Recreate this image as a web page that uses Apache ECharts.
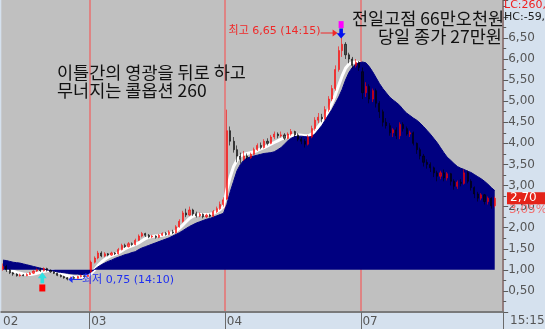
<!DOCTYPE html>
<html><head><meta charset="utf-8">
<script src="https://cdn.jsdelivr.net/npm/echarts@6/dist/echarts.min.js"></script>
<style>html,body{margin:0;padding:0;background:#D5E1EE;overflow:hidden}#c{width:545px;height:329px}</style>
</head><body><div id="c"></div>
<script>
// ---- data ----
const dayLabels = ['02', '03', '04', '07'];
// candles: [open, close, low, high]
const day02Bars = [[1.02,1.08,0.98,1.15],[1.08,1.00,0.95,1.12],[1.00,0.93,0.90,1.02],[0.93,0.90,0.86,0.95],[0.90,0.86,0.84,0.92],[0.86,0.88,0.84,0.91],[0.88,0.86,0.85,0.90],[0.86,0.89,0.85,0.92],[0.89,0.92,0.88,0.95],[0.92,0.97,0.90,0.99],[0.97,1.00,0.95,1.03],[1.00,0.98,0.95,1.05],[0.98,1.03,0.96,1.06],[1.03,0.99,0.96,1.05],[0.99,0.95,0.93,1.01],[0.95,0.92,0.90,0.97],[0.92,0.87,0.85,0.93],[0.87,0.84,0.82,0.89],[0.84,0.81,0.79,0.86],[0.81,0.78,0.75,0.83],[0.78,0.82,0.77,0.84],[0.82,0.80,0.78,0.85],[0.80,0.84,0.79,0.86],[0.84,0.86,0.82,0.89],[0.86,0.84,0.82,0.88],[0.84,0.88,0.83,0.90]];
const day03Bars = [[0.95,1.18,0.93,1.22],[1.18,1.28,1.15,1.32],[1.28,1.40,1.25,1.45],[1.40,1.33,1.30,1.44],[1.33,1.38,1.30,1.42],[1.38,1.35,1.32,1.40],[1.35,1.40,1.33,1.43],[1.40,1.38,1.35,1.42],[1.38,1.48,1.36,1.52],[1.48,1.58,1.46,1.62],[1.58,1.55,1.52,1.62],[1.55,1.62,1.53,1.66],[1.62,1.60,1.57,1.65],[1.60,1.70,1.58,1.74],[1.70,1.80,1.68,1.84],[1.80,1.86,1.77,1.90],[1.86,1.82,1.78,1.88],[1.82,1.78,1.75,1.85],[1.78,1.80,1.75,1.83],[1.80,1.77,1.74,1.82],[1.77,1.82,1.75,1.85],[1.82,1.86,1.80,1.89],[1.86,1.84,1.81,1.90],[1.84,1.90,1.82,1.94],[1.90,1.88,1.85,1.95],[1.88,2.02,1.86,2.06],[2.02,2.15,2.00,2.20],[2.15,2.35,2.12,2.40],[2.35,2.30,2.25,2.45],[2.30,2.42,2.28,2.50],[2.42,2.33,2.28,2.45],[2.33,2.28,2.24,2.38],[2.28,2.32,2.25,2.36],[2.32,2.26,2.22,2.34],[2.26,2.30,2.23,2.33],[2.30,2.27,2.24,2.33],[2.27,2.38,2.25,2.42],[2.38,2.45,2.35,2.50],[2.45,2.55,2.42,2.62],[2.55,2.66,2.50,2.72]];
const day04Bars = [[2.68,4.30,2.66,4.80],[4.30,4.05,3.95,4.40],[4.05,3.85,3.78,4.15],[3.85,3.70,3.55,3.95],[3.70,3.62,3.52,3.78],[3.62,3.70,3.58,3.82],[3.70,3.66,3.62,3.76],[3.66,3.74,3.63,3.78],[3.74,3.85,3.72,3.90],[3.85,3.95,3.82,4.00],[3.95,3.90,3.86,4.02],[3.90,4.05,3.88,4.10],[4.05,4.00,3.95,4.12],[4.00,4.15,3.98,4.20],[4.15,4.22,4.10,4.28],[4.22,4.18,4.12,4.26],[4.18,4.20,4.14,4.28],[4.20,4.12,4.08,4.24],[4.12,4.22,4.10,4.26],[4.22,4.28,4.18,4.34],[4.28,4.20,4.15,4.30],[4.20,4.10,4.05,4.24],[4.10,4.05,3.98,4.15],[4.05,3.98,3.90,4.10],[3.98,4.15,3.95,4.20],[4.15,4.35,4.12,4.42],[4.35,4.55,4.30,4.62],[4.55,4.62,4.48,4.72],[4.62,4.58,4.50,4.70],[4.58,4.80,4.55,4.88],[4.80,5.05,4.75,5.12],[5.05,5.30,5.00,5.38],[5.30,5.75,5.25,5.85],[5.75,6.20,5.70,6.30],[6.20,6.35,6.05,6.65],[6.35,6.10,6.00,6.40],[6.10,6.00,5.90,6.15],[6.00,5.85,5.78,6.05],[5.85,5.92,5.80,6.00],[5.92,5.80,5.72,5.95]];
const day07Bars = [[5.70,5.20,5.05,5.80],[5.20,5.35,5.10,5.45],[5.35,5.05,4.95,5.40],[5.05,5.25,4.98,5.30],[5.25,4.95,4.85,5.30],[4.95,4.75,4.60,5.00],[4.75,4.50,4.40,4.80],[4.50,4.42,4.35,4.60],[4.42,4.25,4.18,4.48],[4.25,4.32,4.15,4.36],[4.32,4.18,4.10,4.38],[4.18,4.45,4.10,4.50],[4.45,4.35,4.28,4.50],[4.35,4.22,4.18,4.40],[4.22,4.25,4.15,4.30],[4.25,4.00,3.95,4.28],[4.00,3.85,3.75,4.02],[3.85,3.70,3.62,3.90],[3.70,3.55,3.45,3.75],[3.55,3.50,3.40,3.62],[3.50,3.42,3.32,3.55],[3.42,3.30,3.20,3.45],[3.30,3.22,3.10,3.35],[3.22,3.30,3.15,3.35],[3.30,3.18,3.10,3.38],[3.18,3.28,3.12,3.32],[3.28,3.10,3.00,3.30],[3.10,2.98,2.90,3.15],[2.98,3.08,2.92,3.12],[3.08,3.05,2.98,3.15],[3.05,3.30,3.02,3.38],[3.30,3.10,3.05,3.36],[3.10,2.95,2.88,3.15],[2.95,2.80,2.70,2.98],[2.80,2.70,2.62,2.85],[2.70,2.78,2.65,2.82],[2.78,2.62,2.55,2.80],[2.62,2.70,2.55,2.74],[2.70,2.52,2.45,2.72],[2.52,2.70,2.48,2.74]];
// long average (navy area, filled against 1.00)
const longAvg02 = [1.23,1.22,1.20,1.18,1.17,1.16,1.14,1.12,1.10,1.08,1.06,1.04,1.02,1.00,0.98,0.97,0.95,0.94,0.93,0.92,0.91,0.90,0.90,0.89,0.89,0.90];
const longAvg03 = [0.95,1.01,1.07,1.12,1.16,1.20,1.23,1.27,1.30,1.33,1.36,1.38,1.41,1.43,1.48,1.52,1.55,1.58,1.61,1.64,1.67,1.70,1.73,1.76,1.80,1.84,1.88,1.93,1.98,2.03,2.07,2.11,2.14,2.17,2.20,2.22,2.25,2.28,2.31,2.34];
const longAvg04 = [2.55,2.85,3.10,3.35,3.50,3.60,3.65,3.68,3.70,3.72,3.74,3.76,3.77,3.78,3.80,3.85,3.90,3.98,4.06,4.12,4.16,4.17,4.17,4.16,4.15,4.16,4.22,4.32,4.42,4.55,4.68,4.80,4.95,5.10,5.28,5.50,5.68,5.80,5.88,5.91];
const longAvg07 = [5.93,5.91,5.82,5.70,5.56,5.42,5.30,5.20,5.10,5.03,4.97,4.90,4.80,4.72,4.66,4.60,4.55,4.48,4.40,4.31,4.22,4.12,4.02,3.90,3.78,3.67,3.60,3.52,3.45,3.41,3.38,3.34,3.31,3.26,3.21,3.16,3.10,3.03,2.95,2.88];
// short average (white line)
const shortAvg02 = [1.05,1.03,1.00,0.97,0.94,0.92,0.90,0.89,0.89,0.90,0.92,0.94,0.96,0.98,0.98,0.97,0.95,0.92,0.89,0.86,0.84,0.83,0.83,0.83,0.84,0.85];
const shortAvg03 = [0.92,1.00,1.10,1.18,1.25,1.30,1.34,1.37,1.40,1.45,1.50,1.54,1.57,1.60,1.64,1.69,1.74,1.77,1.79,1.80,1.81,1.82,1.84,1.86,1.88,1.92,1.98,2.06,2.14,2.22,2.27,2.30,2.31,2.31,2.31,2.32,2.34,2.38,2.43,2.50];
const shortAvg04 = [2.90,3.20,3.45,3.60,3.70,3.74,3.76,3.78,3.80,3.83,3.87,3.90,3.94,3.98,4.02,4.06,4.10,4.13,4.16,4.18,4.20,4.20,4.19,4.18,4.18,4.22,4.30,4.40,4.50,4.62,4.78,4.95,5.15,5.38,5.60,5.78,5.88,5.92,5.93,5.92];
const shortAvg07 = [5.85,5.75,5.60,5.45,5.30,5.15,5.00,4.85,4.72,4.60,4.50,4.42,4.35,4.28,4.22,4.15,4.05,3.95,3.85,3.75,3.65,3.56,3.48,3.40,3.34,3.28,3.22,3.16,3.12,3.10,3.12,3.12,3.08,3.02,2.95,2.88,2.82,2.76,2.72,2.68];
// annotations
const highValue = 6.65, highBarOfDay04 = 34, highText = '최고 6,65 (14:15)';
const lowValue = 0.75, lowBarOfDay02 = 19, lowText = '최저 0,75 (14:10)';
const signalBarOfDay02 = 11, signalArrowValue = 0.81, signalBoxValue = 0.57;
const lastChangeText = '3,05%';
const captionLeft = ['이틀간의 영광을 뒤로 하고', '무너지는 콜옵션 260'];
const captionRight = ['전일고점 66만오천원', '당일 종가 27만원'];
const topRightLines = ['LC:260,00', 'HC:-59,'];
const clockText = '15:15:00';

// ---- build ----
const dayBars = [day02Bars, day03Bars, day04Bars, day07Bars];
const dayLong = [longAvg02, longAvg03, longAvg04, longAvg07];
const dayShort = [shortAvg02, shortAvg03, shortAvg04, shortAvg07];
const categories = [], bars = [], longAvg = [], shortAvg = [], dayStart = [];
dayBars.forEach((d, di) => {
  dayStart.push(bars.length);
  d.forEach((b, j) => {
    categories.push(dayLabels[di] + '-' + j);
    bars.push(b); longAvg.push(dayLong[di][j]); shortAvg.push(dayShort[di][j]);
  });
});
const PAD = 2;
for (let i = 0; i < PAD; i++) { categories.push('pad' + i); }
const barPx = 3.4;
const gridW = categories.length * barPx;
const highIdx = dayStart[2] + highBarOfDay04;
const lowIdx = dayStart[0] + lowBarOfDay02;
const sigIdx = dayStart[0] + signalBarOfDay02;
const lastClose = bars[bars.length - 1][1];
const isDayStart = i => dayStart.indexOf(i) > 0;
const fmt = v => v.toFixed(2).replace('.', ',');

const chart = echarts.init(document.getElementById('c'), null, {renderer: 'canvas'});
const txtFont = '"DejaVu Sans", "Noto Sans CJK KR", sans-serif';
const krFont = '17.5px "Noto Sans CJK KR"';
chart.setOption({
  animation: false,
  backgroundColor: '#D5E1EE',
  grid: {left: 0, top: 0, width: gridW, height: 312, show: true, backgroundColor: '#C0C0C0', borderWidth: 0},
  xAxis: {
    type: 'category', data: categories, boundaryGap: true,
    axisLine: {show: true, lineStyle: {color: '#7A7A7A', width: 2}},
    axisTick: {show: true, interval: (i) => isDayStart(i), length: 17, lineStyle: {color: '#6A6A6A', width: 1}},
    axisLabel: {interval: (i) => dayStart.indexOf(i) >= 0, formatter: (v) => v.split('-')[0], align: 'left', margin: 4,
      color: '#555', fontSize: 12, fontFamily: 'DejaVu Sans'},
    splitLine: {show: true, interval: (i) => isDayStart(i), lineStyle: {color: '#E87070', width: 1.5}}
  },
  yAxis: {
    type: 'value', position: 'right', min: 0, max: 7.4, interval: 0.5,
    axisLine: {show: true, lineStyle: {color: '#7A7A7A', width: 1.5}},
    axisTick: {show: true, length: 5, lineStyle: {color: '#5A5A5A'}},
    minorTick: {show: true, splitNumber: 2, length: 3, lineStyle: {color: '#5A5A5A'}},
    axisLabel: {margin: 5, color: '#555', fontSize: 12, fontFamily: 'DejaVu Sans',
      formatter: (v) => (v < 0.4 || v > 6.9) ? '' : fmt(v)},
    splitLine: {show: false}
  },
  series: [
    {type: 'line', data: shortAvg, showSymbol: false, symbol: 'none', z: 2,
      lineStyle: {color: '#FFFFFF', width: 3}},
    {type: 'line', data: longAvg, showSymbol: false, symbol: 'none', z: 3,
      lineStyle: {color: '#000080', width: 1}, areaStyle: {color: '#000080', opacity: 1, origin: 1}},
    {type: 'candlestick', data: bars, barWidth: 1.6, z: 4,
      itemStyle: {color: '#FF0000', color0: '#000000', borderColor: '#FF0000', borderColor0: '#000000', borderWidth: 1, opacity: 0.6},
      markPoint: {
        animation: false,
        data: [
          {coord: [highIdx, highValue], symbol: 'circle', symbolSize: 1, itemStyle: {color: 'rgba(0,0,0,0)', opacity: 1},
            label: {show: true, position: 'left', distance: 21, formatter: highText, color: '#F02828', fontSize: 11, fontFamily: txtFont}},
          {coord: [highIdx, highValue], symbol: 'path://M0,3 L12,3 L12,0 L17,3.5 L12,7 L12,4 L0,4 Z', symbolSize: [17, 7], symbolOffset: [-13, 1.5],
            itemStyle: {color: '#F02828', opacity: 1}, label: {show: false}},
          {coord: [highIdx, highValue], symbol: 'rect', symbolSize: [5, 7], symbolOffset: [-1, -7],
            itemStyle: {color: '#FF00FF', opacity: 1}, label: {show: false}},
          {coord: [highIdx, highValue], symbol: 'path://M3,0 L7,0 L7,5 L10,5 L5,11 L0,5 L3,5 Z', symbolSize: [9, 10], symbolOffset: [-1, 2],
            itemStyle: {color: '#0010F0', opacity: 1}, label: {show: false}},
          {coord: [lowIdx, lowValue], symbol: 'circle', symbolSize: 1, itemStyle: {color: 'rgba(0,0,0,0)', opacity: 1},
            label: {show: true, position: 'right', distance: 14, formatter: lowText, color: '#2030F0', fontSize: 11, fontFamily: txtFont}},
          {coord: [lowIdx, lowValue], symbol: 'path://M17,3 L5,3 L5,0 L0,3.5 L5,7 L5,4 L17,4 Z', symbolSize: [14, 7], symbolOffset: [8, -1],
            itemStyle: {color: '#2030F0', opacity: 1}, label: {show: false}},
          {coord: [sigIdx, signalArrowValue], symbol: 'path://M5,0 L10,6 L7,6 L7,11 L3,11 L3,6 L0,6 Z', symbolSize: [9, 11], symbolOffset: [2, 0],
            itemStyle: {color: '#30E0E0', opacity: 1}, label: {show: false}},
          {coord: [sigIdx, signalBoxValue], symbol: 'rect', symbolSize: [6, 7], symbolOffset: [2, 0],
            itemStyle: {color: '#FF0000', opacity: 1}, label: {show: false}}
        ]
      }
    }
  ]
});
const py = chart.convertToPixel({yAxisIndex: 0}, lastClose);
chart.setOption({graphic: [
  {id: 'c1', type: 'text', left: 57, top: 64, z: 10, style: {text: captionLeft[0], font: krFont, fill: '#111'}},
  {id: 'c2', type: 'text', left: 57, top: 82, z: 10, style: {text: captionLeft[1], font: krFont, fill: '#111'}},
  {id: 'c3', type: 'text', left: 352, top: 10, z: 10, style: {text: captionRight[0], font: krFont, fill: '#111'}},
  {id: 'c4', type: 'text', left: 378, top: 28, z: 10, style: {text: captionRight[1], font: krFont, fill: '#111'}},
  {id: 'lc', type: 'text', left: 504, top: 0, z: 10, style: {text: topRightLines[0], font: '11px "DejaVu Sans"', fill: '#F02020'}},
  {id: 'hc', type: 'text', left: 504, top: 12, z: 10, style: {text: topRightLines[1], font: '11px "DejaVu Sans"', fill: '#202020'}},
  {id: 'clk', type: 'text', left: 510, top: 315, z: 10, style: {text: clockText, font: '12px "DejaVu Sans"', fill: '#555'}},
  {id: 'pb', type: 'rect', left: 507, top: py - 6, z: 10, shape: {width: 40, height: 12}, style: {fill: '#E42319'}},
  {id: 'pt', type: 'text', left: 510, top: py - 6, z: 11, style: {text: fmt(lastClose), font: '12px "DejaVu Sans"', fill: '#FFFFFF'}},
  {id: 'pc', type: 'text', left: 509, top: py + 6, z: 11, style: {text: lastChangeText, font: '12px "DejaVu Sans"', fill: '#F07070'}}
]});
</script>
</body></html>
